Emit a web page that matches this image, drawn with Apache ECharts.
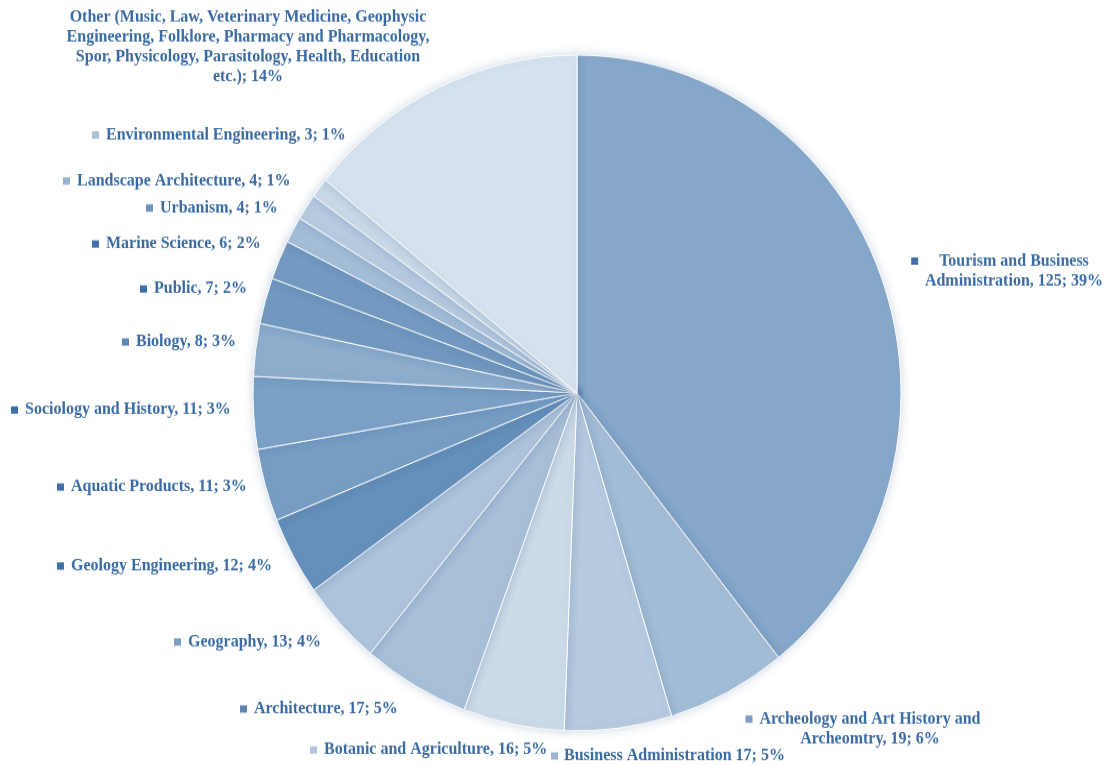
<!DOCTYPE html>
<html><head><meta charset="utf-8">
<script src="https://cdn.jsdelivr.net/npm/echarts@6/dist/echarts.min.js"></script>
<style>html,body{margin:0;padding:0;background:#fff;overflow:hidden}
#wrap{width:1113px;height:765px;transform:scaleY(1.043);transform-origin:0 393px}
#c{width:1113px;height:765px}</style>
</head><body><div id="wrap"><div id="c"></div></div>
<script>
const categories = ['Tourism and Business Administration','Archeology and Art History and Archeomtry','Business Administration','Botanic and Agriculture','Architecture','Geography','Geology Engineering','Aquatic Products','Sociology and History','Biology','Public','Marine Science','Urbanism','Landscape Architecture','Environmental Engineering','Other'];
const values = [125,19,17,16,17,13,12,11,11,8,7,6,4,4,3,45];
const labelTexts = [
  'Tourism and Business\nAdministration, 125; 39%',
  'Archeology and Art History and\nArcheomtry, 19; 6%',
  'Business Administration 17; 5%',
  'Botanic and Agriculture, 16; 5%',
  'Architecture, 17; 5%',
  'Geography, 13; 4%',
  'Geology Engineering, 12; 4%',
  'Aquatic Products, 11; 3%',
  'Sociology and History, 11; 3%',
  'Biology, 8; 3%',
  'Public, 7; 2%',
  'Marine Science, 6; 2%',
  'Urbanism, 4; 1%',
  'Landscape Architecture, 4; 1%',
  'Environmental Engineering, 3; 1%',
  'Other (Music, Law, Veterinary Medicine, Geophysic\nEngineering, Folklore, Pharmacy and Pharmacology,\nSpor, Physicology, Parasitology, Health, Education\netc.); 14%'
];
// styles / layout (not data)
const sliceColors = ['#87a8ca','#a4bdd7','#b7cadf','#cddbe8','#a8bfd8','#aec4db','#6690bb','#789ec4','#7ca1c6','#8eaecd','#7399c0','#759bc2','#a5bed8','#b8cbe0','#cbd9e8','#d7e2ee'];
const markerColors = ['#3f6fa6','#7f9cc2','#9db5d2','#b3c6dc','#5f86b5','#7d9dc2','#3f6fa6','#3f6fa6','#3f6fa6','#5d87b6','#3f6fa6','#3f6fa6','#6e93bd','#9ab3d0','#a9bfd8',null];
// [x, y (image coords), align, gap after marker]
const labelPos = [
  [1014,271,'center',21],[870,729,'center',7],[551,756,'left',6],[310,750,'left',7],
  [240,709,'left',7],[174,642,'left',7],[57,566,'left',7],[57,487,'left',7],
  [11,410,'left',7],[122,342,'left',7],[140,289,'left',7],[92,244,'left',7],
  [146,208,'left',7],[63,181,'left',7],[92,135,'left',7],[248,47,'center',0]
];
const SY = 1.043, CY = 393;
const textColor = '#3a6ba3';
const font = '"Liberation Serif", "Times New Roman", serif';

const data = categories.map((n, i) => {
  const lines = labelTexts[i].split('\n');
  const centered = labelPos[i][2] === 'center';
  let txt;
  if (markerColors[i]) {
    txt = '{m|}{g|}{t|' + lines[0] + '}' + (centered ? '{e|}' : '') + lines.slice(1).map(l => '\n{t|' + l + '}').join('');
  } else {
    txt = lines.map(l => '{t|' + l + '}').join('\n');
  }
  return {
    name: n, value: values[i],
    itemStyle: { color: sliceColors[i] },
    label: {
      formatter: txt,
      rich: {
        m: { width: 7, height: 7, backgroundColor: markerColors[i] || 'transparent' },
        g: { width: labelPos[i][3] },
        e: { width: labelPos[i][3] + 7 },
        t: { color: textColor, fontFamily: font, fontWeight: 'bold', fontSize: 16, lineHeight: 19 }
      }
    }
  };
});

const chart = echarts.init(document.getElementById('c'), null, { renderer: 'canvas' });
chart.setOption({
  animation: false,
  backgroundColor: '#fff',
  series: [{
    type: 'pie',
    center: [577, 393],
    radius: 324,
    startAngle: 90,
    clockwise: true,
    avoidLabelOverlap: false,
    itemStyle: { borderColor: '#ffffff', borderWidth: 1, shadowBlur: 8, shadowColor: 'rgba(70,110,160,0.25)' },
    label: { show: true, position: 'outside', color: textColor, fontFamily: font, fontWeight: 'bold', fontSize: 16, lineHeight: 19 },
    labelLine: { show: false },
    emphasis: { disabled: true },
    data: data,
    labelLayout: function (p) {
      const lp = labelPos[p.dataIndex];
      return { x: lp[0], y: CY + (lp[1] - CY) / SY, align: lp[2], verticalAlign: 'middle' };
    }
  }]
});
</script></body></html>
